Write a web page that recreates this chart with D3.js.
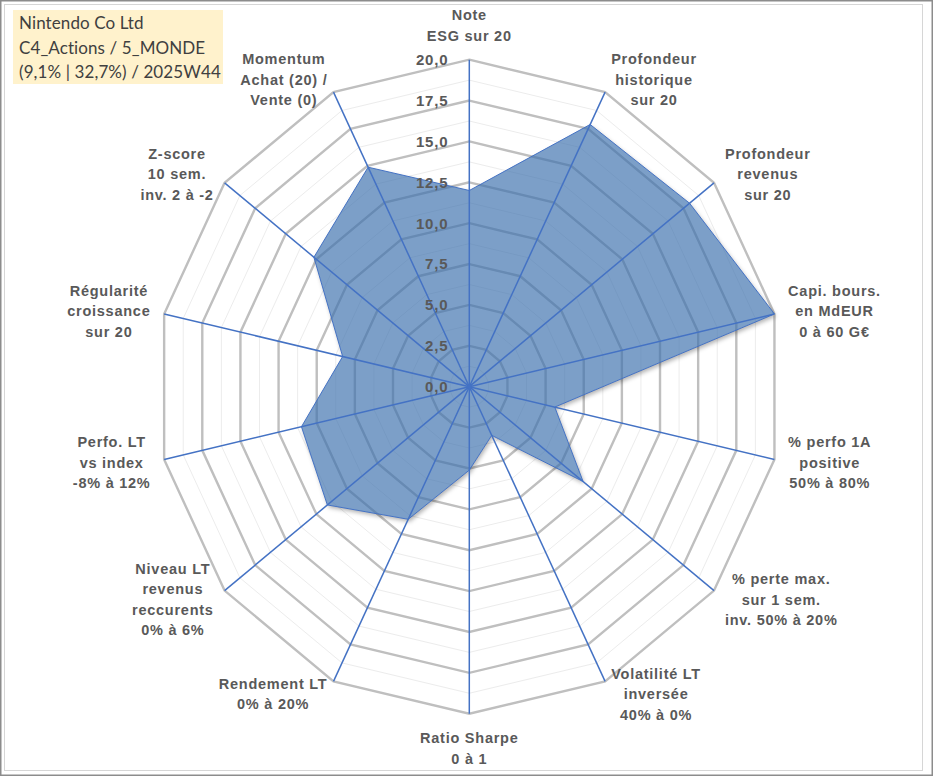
<!DOCTYPE html>
<html>
<head>
<meta charset="utf-8">
<script src="https://cdn.jsdelivr.net/npm/d3@7"></script>
<style>
body { margin:0; background:#fff; }
svg { display:block; }
</style>
</head>
<body>
<svg width="933" height="776"></svg>
<script>
// axes of the radar, clockwise from the top
var categories = [
  ['Note', 'ESG sur 20'],
  ['Profondeur', 'historique', 'sur 20'],
  ['Profondeur', 'revenus', 'sur 20'],
  ['Capi. bours.', 'en MdEUR', '0 à 60 G€'],
  ['% perfo 1A', 'positive', '50% à 80%'],
  ['% perte max.', 'sur 1 sem.', 'inv. 50% à 20%'],
  ['Volatilité LT', 'inversée', '40% à 0%'],
  ['Ratio Sharpe', '0 à 1'],
  ['Rendement LT', '0% à 20%'],
  ['Niveau LT', 'revenus', 'reccurents', '0% à 6%'],
  ['Perfo. LT', 'vs index', '-8% à 12%'],
  ['Régularité', 'croissance', 'sur 20'],
  ['Z-score', '10 sem.', 'inv. 2 à -2'],
  ['Momentum', 'Achat (20) /', 'Vente (0)']
];
var scores = [12.0, 17.8, 18.0, 20.0, 5.6, 9.3, 3.3, 5.1, 9.0, 11.6, 11.0, 8.3, 12.7, 14.9];
var majorTicks = [2.5, 5, 7.5, 10, 12.5, 15, 17.5, 20];
var minorTicks = [1.25, 3.75, 6.25, 8.75, 11.25, 13.75, 16.25, 18.75];
var tickLabels = ['0,0', '2,5', '5,0', '7,5', '10,0', '12,5', '15,0', '17,5', '20,0'];
var tickValues = [0, 2.5, 5, 7.5, 10, 12.5, 15, 17.5, 20];
var titleLines = ['Nintendo Co Ltd', 'C4_Actions / 5_MONDE', '(9,1% | 32,7%) / 2025W44'];

var svg = d3.select('svg');
var cx = 469.3, cy = 386.7, rx = 313, ry = 327;
var n = categories.length;

var r = d3.scaleLinear().domain([0, 20]).range([0, 1]);
var ang = d3.scaleLinear().domain([0, n]).range([0, 2 * Math.PI]);

function px(i, v) { return cx + rx * r(v) * Math.sin(ang(i)); }
function py(i, v) { return cy - ry * r(v) * Math.cos(ang(i)); }
function ring(v) { return d3.range(n).map(function(i) { return [px(i, v), py(i, v)]; }); }

// frame
svg.append('rect').attr('x', 0.75).attr('y', 0.75).attr('width', 931.5).attr('height', 774.5)
  .attr('fill', '#fff').attr('stroke', '#8c8c8c').attr('stroke-width', 1.5);
svg.append('rect').attr('x', 4.5).attr('y', 4.5).attr('width', 918).attr('height', 766)
  .attr('fill', 'none').attr('stroke', '#d6d6d6').attr('stroke-width', 1);

var line = d3.line().curve(d3.curveLinearClosed);
var seriesPath = line(scores.map(function(v, i) { return [px(i, v), py(i, v)]; }));

// shadow only outside the area
var defs = svg.append('defs');
defs.append('filter').attr('id', 'blur').attr('x', '-10%').attr('y', '-10%').attr('width', '120%').attr('height', '120%')
  .append('feGaussianBlur').attr('stdDeviation', 2.2);
var mask = defs.append('mask').attr('id', 'outside').attr('maskUnits', 'userSpaceOnUse')
  .attr('x', 0).attr('y', 0).attr('width', 933).attr('height', 776);
mask.append('rect').attr('width', 933).attr('height', 776).attr('fill', '#fff');
mask.append('path').attr('d', seriesPath).attr('fill', '#000');

// gridlines
svg.append('g').selectAll('path').data(minorTicks).join('path')
  .attr('d', function(d) { return line(ring(d)); })
  .attr('fill', 'none').attr('stroke', '#ececec').attr('stroke-width', 1);
svg.append('g').selectAll('path').data(majorTicks).join('path')
  .attr('d', function(d) { return line(ring(d)); })
  .attr('fill', 'none').attr('stroke', '#bfbfbf').attr('stroke-width', 2.4);

// series
svg.append('g').attr('mask', 'url(#outside)')
  .append('path').attr('d', seriesPath)
  .attr('transform', 'translate(1.5,2.5)')
  .attr('fill', '#000').attr('fill-opacity', 0.3)
  .attr('filter', 'url(#blur)');
svg.append('path')
  .attr('d', seriesPath)
  .attr('fill', '#3c70ad').attr('fill-opacity', 0.67)
  .attr('stroke', '#4472c4').attr('stroke-width', 1);

// spokes
svg.append('g').selectAll('line').data(d3.range(n)).join('line')
  .attr('x1', cx).attr('y1', cy)
  .attr('x2', function(i) { return px(i, 20); })
  .attr('y2', function(i) { return py(i, 20); })
  .attr('stroke', '#4472c4').attr('stroke-width', 1.5);
svg.append('circle').attr('cx', cx).attr('cy', cy).attr('r', 2.5).attr('fill', '#4472c4');

// radial tick labels
svg.append('g').selectAll('text').data(tickValues).join('text')
  .attr('x', cx - 21)
  .attr('y', function(d) { return cy - ry * r(d); })
  .attr('dy', '0.36em')
  .attr('text-anchor', 'end')
  .attr('font-family', "'Liberation Sans', Arial, sans-serif")
  .attr('font-weight', 'bold').attr('font-size', 15).attr('letter-spacing', 0.8)
  .attr('fill', '#595959')
  .text(function(d, i) { return tickLabels[i]; });

// category labels
var lh = 20.5, pad = 14;
categories.forEach(function(lines, i) {
  var a = ang(i), s = Math.sin(a), c = Math.cos(a);
  var vx = px(i, 20), vy = py(i, 20);
  var g = svg.append('g');
  var t = g.append('text')
    .attr('text-anchor', 'middle')
    .attr('font-family', "'Liberation Sans', Arial, sans-serif")
    .attr('font-weight', 'bold').attr('font-size', 14.5).attr('letter-spacing', 0.75)
    .attr('fill', '#595959');
  lines.forEach(function(l, k) {
    t.append('tspan').attr('x', 0).attr('y', (k - (lines.length - 1) / 2) * lh).attr('dy', '0.36em').text(l);
  });
  var hw = d3.max(t.selectAll('tspan').nodes(), function(node) { return node.getComputedTextLength(); }) / 2;
  var hh = lines.length * lh / 2;
  var x, y;
  if (Math.abs(s) < 0.01) {
    x = vx;
    y = vy - c * (pad + hh);
  } else {
    x = vx + pad * s + (s > 0 ? hw : -hw);
    y = vy - pad * c;
  }
  g.attr('transform', 'translate(' + x + ',' + y + ')');
});

// title box
svg.append('rect').attr('x', 13).attr('y', 10).attr('width', 210).attr('height', 74).attr('fill', '#fff2cc');
svg.append('g').selectAll('text').data(titleLines).join('text')
  .attr('x', 19)
  .attr('y', function(d, i) { return 29 + i * 24.5; })
  .attr('font-family', 'Lato, Open Sans, sans-serif')
  .attr('font-size', 17)
  .attr('letter-spacing', 0.1)
  .attr('fill', '#404040')
  .text(function(d) { return d; });
</script>
</body>
</html>
